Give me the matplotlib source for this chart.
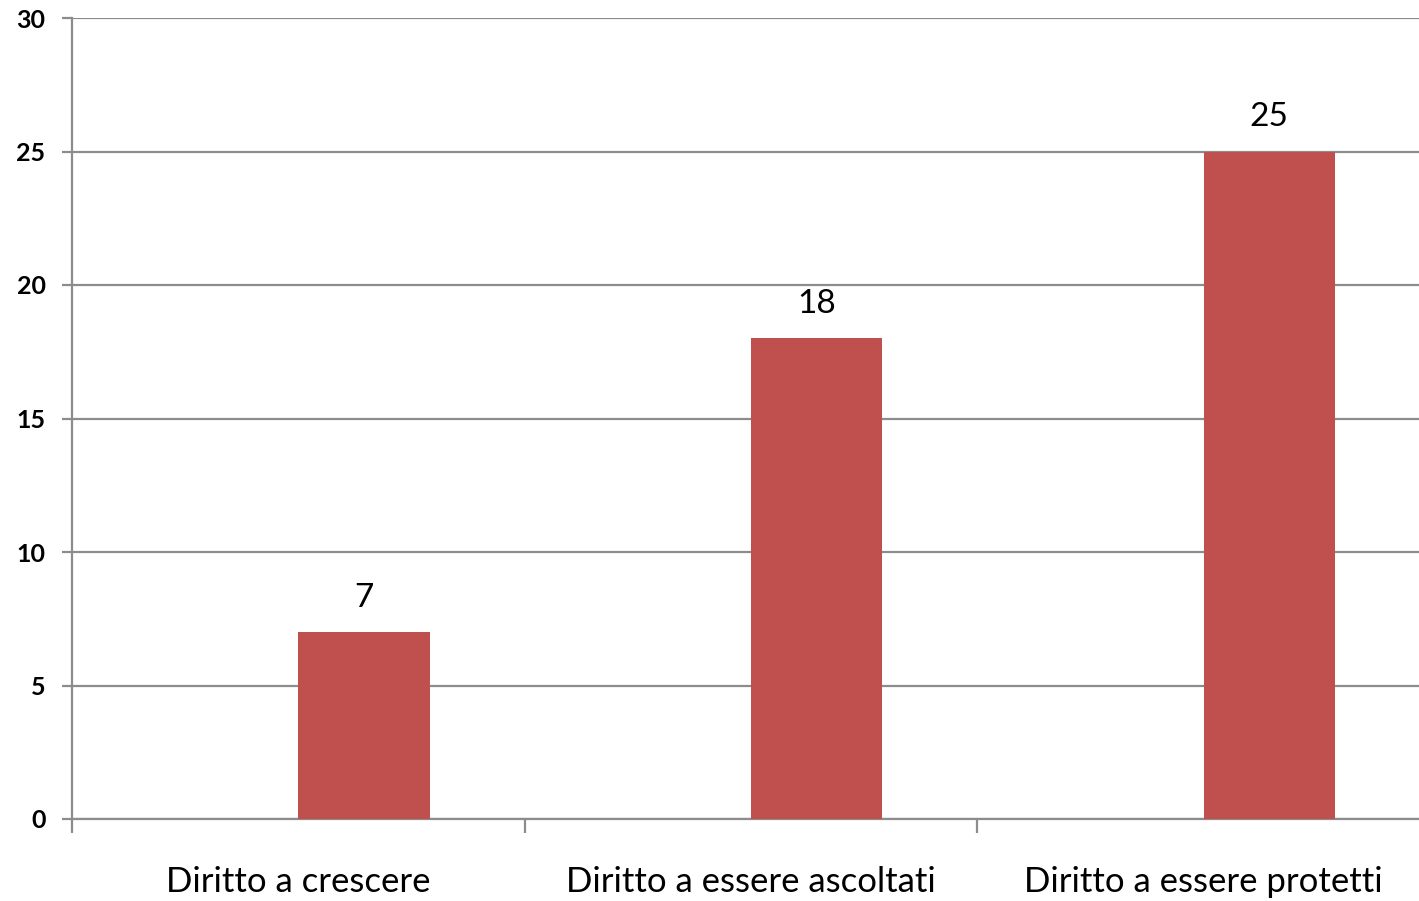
import matplotlib
matplotlib.use("Agg")
from matplotlib import pyplot as plt

# dati
categorie = ["Diritto a crescere", "Diritto a essere ascoltati", "Diritto a essere protetti"]
valori = [7, 18, 25]
tick_y = [0, 5, 10, 15, 20, 25, 30]

plt.rcParams['font.family'] = ['Lato', 'DejaVu Sans']

fig = plt.figure(figsize=(14.19, 9.01), dpi=100)
W, H = 1419, 901
# l'asse esce oltre il bordo destro come nell'originale
ax = fig.add_axes([72 / W, (H - 819) / H, (1430 - 72) / W, (819 - 18) / H])

grigio = "#8c8c8c"
pos = list(range(len(categorie)))
ax.bar(pos, valori, width=0.29, align='edge', color="#C0504D", zorder=3)

for x, v in zip(pos, valori):
    ax.annotate(str(v), (x + 0.145, v), xytext=(0, 14), textcoords='offset points',
                ha='center', va='bottom', fontsize=24, color='black')

ax.set_xlim(-0.5, 2.5)
ax.set_ylim(0, 30)
ax.set_yticks(tick_y)
ax.set_yticklabels([str(t) for t in tick_y], fontsize=18, fontweight='bold')
ax.yaxis.grid(True, color=grigio, linewidth=1.6, zorder=0)

# tick di categoria ai bordi, etichette al centro
ax.set_xticks([-0.5, 0.5, 1.5, 2.5])
ax.set_xticklabels([])
ax.set_xticks(pos, minor=True)
ax.set_xticklabels(categorie, minor=True, fontsize=25)
ax.tick_params(axis='x', which='major', length=10, width=1.6, color=grigio)
ax.tick_params(axis='x', which='minor', length=0, pad=34)
ax.tick_params(axis='y', length=7, width=1.6, color=grigio, pad=12)

for s in ['top', 'right']:
    ax.spines[s].set_visible(False)
for s in ['left', 'bottom']:
    ax.spines[s].set_color(grigio)
    ax.spines[s].set_linewidth(1.6)

fig.savefig("out.png", dpi=100)
